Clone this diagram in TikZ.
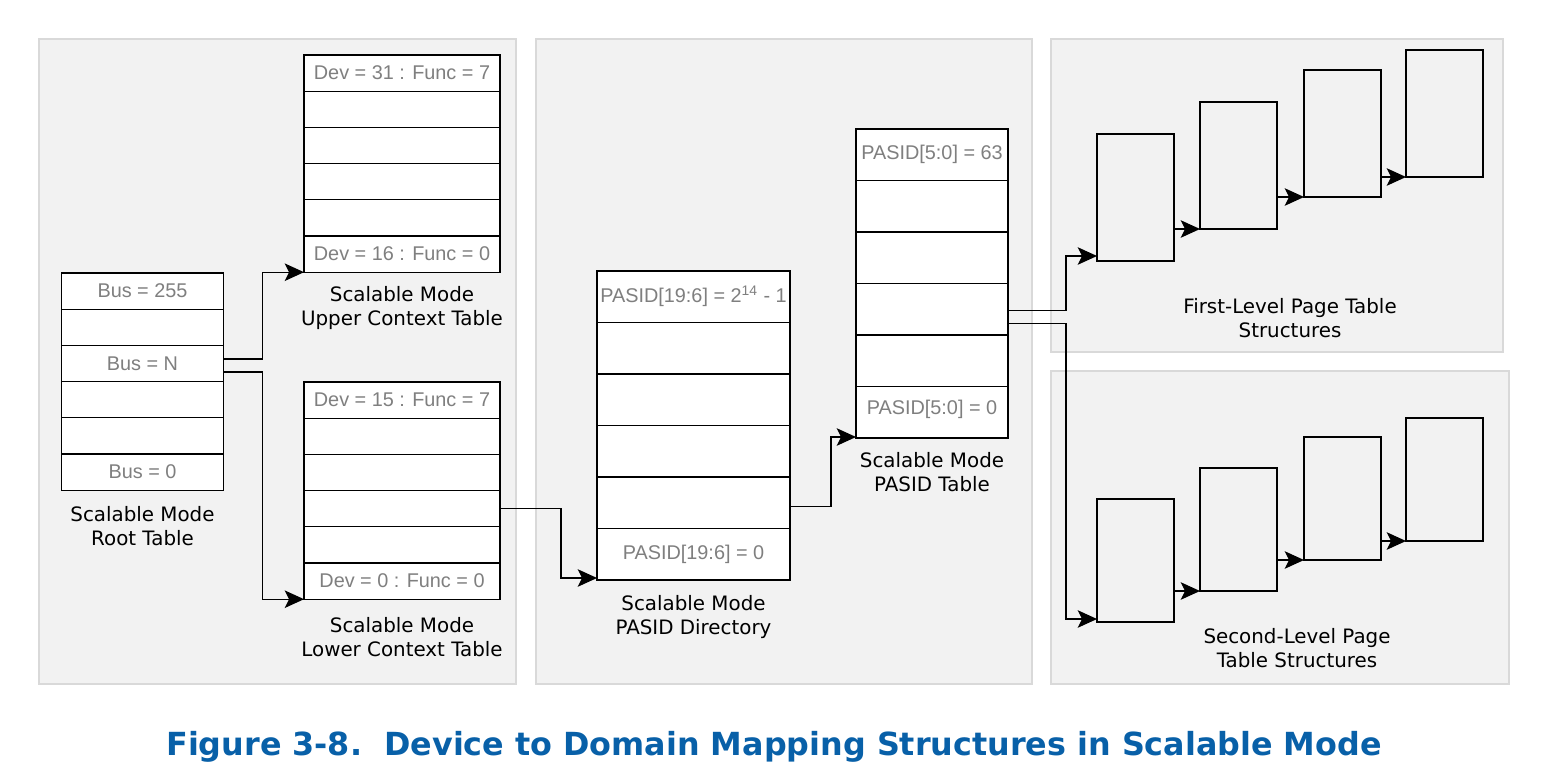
\documentclass[tikz,border=0pt]{standalone}
\usepackage{fontspec}
\setmainfont{DejaVu Sans}
\newfontfamily\cellfont{Liberation Sans}
\usetikzlibrary{arrows.meta, calc, positioning}
\definecolor{panelgray}{HTML}{F2F2F2}
\definecolor{panelline}{HTML}{D9D9D9}
\definecolor{cellgray}{HTML}{7F7F7F}
\definecolor{titleblue}{HTML}{0860A8}

\begin{document}
\begin{tikzpicture}[x=0.02cm, y=-0.02cm, >={Stealth[length=11pt, width=10pt, inset=2.5pt]}, line width=0.7pt]
	\tikzstyle{panel}=[fill=panelgray, draw=panelline, line width=1.1pt]
	\tikzstyle{cell}=[draw, fill=white, inner sep=0pt, outer sep=0pt, text=cellgray, font=\cellfont\fontsize{11.3}{13.6}\selectfont]
	\tikzstyle{rootcell}=[cell, minimum width=3.232cm, minimum height=0.724cm]
	\tikzstyle{ctxcell}=[cell, minimum width=3.92cm, minimum height=0.724cm]
	\tikzstyle{dircell}=[cell, minimum width=3.86cm, minimum height=1.03cm]
	\tikzstyle{ptabcell}=[cell, minimum width=3.04cm, minimum height=1.03cm]
	\tikzstyle{pagebox}=[draw, inner sep=0pt, outer sep=0pt, anchor=south west, minimum width=1.54cm]
	\tikzstyle{caption}=[align=center, inner sep=0pt, font=\fontsize{11.3}{13.6}\selectfont]
	\tikzstyle{link}=[->]
	\useasboundingbox (0,0) rectangle (1552,782);

	% background panels
	\draw[panel] (39,39) rectangle (516,684);
	\draw[panel] (536,39) rectangle (1032,684);
	\draw[panel] (1051,39) rectangle (1503,352);
	\draw[panel] (1051,371) rectangle (1509,684);

	% tables
	\foreach \t [count=\i] in {{Bus = 255},{},{Bus = N},{},{},{Bus = 0}}
		\node[rootcell] (ROOT\i) at (142.5, {273+36.2*(\i-0.5)}) {\t};
	\foreach \t [count=\i] in {{Dev = 31 : Func = 7},{},{},{},{},{Dev = 16 : Func = 0}}
		\node[ctxcell] (UPPER\i) at (402, {55+36.2*(\i-0.5)}) {\t};
	\foreach \t [count=\i] in {{Dev = 15 : Func = 7},{},{},{},{},{Dev = 0 : Func = 0}}
		\node[ctxcell] (LOWER\i) at (402, {382+36.2*(\i-0.5)}) {\t};
	\foreach \t [count=\i] in {{PASID[19:6] = 2\textsuperscript{14} - 1},{},{},{},{},{PASID[19:6] = 0}}
		\node[dircell] (DIR\i) at (693.5, {271+51.5*(\i-0.5)}) {\t};
	\foreach \t [count=\i] in {{PASID[5:0] = 63},{},{},{},{},{\raisebox{6pt}{PASID[5:0] = 0}}}
		\node[ptabcell] (PTAB\i) at (932, {129+51.5*(\i-0.5)}) {\t};

	% page table structures
	\node[pagebox, minimum height=2.54cm] (FL1) at (1097,261) {};
	\node[pagebox, minimum height=2.54cm] (FL2) at (1200,229) {};
	\node[pagebox, minimum height=2.54cm] (FL3) at (1304,197) {};
	\node[pagebox, minimum height=2.54cm] (FL4) at (1406,177) {};
	\node[pagebox, minimum height=2.46cm] (SL1) at (1097,622) {};
	\node[pagebox, minimum height=2.46cm] (SL2) at (1200,591) {};
	\node[pagebox, minimum height=2.46cm] (SL3) at (1304,560) {};
	\node[pagebox, minimum height=2.46cm] (SL4) at (1406,541) {};

	% captions
	\node[caption] (ROOTCAP) at ($(ROOT6.south)+(0,35.5)$) {Scalable Mode\\Root Table};
	\node[caption] (UPPERCAP) at ($(UPPER6.south)+(0,35.6)$) {Scalable Mode\\Upper Context Table};
	\node[caption] (LOWERCAP) at ($(LOWER6.south)+(0,37.6)$) {Scalable Mode\\Lower Context Table};
	\node[caption] (DIRCAP) at ($(DIR6.south)+(0,36.8)$) {Scalable Mode\\PASID Directory};
	\node[caption] (PTABCAP) at ($(PTAB6.south)+(0,34.5)$) {Scalable Mode\\PASID Table};
	\node[caption] (FLCAP) at (1290,318.5) {First-Level Page Table\\Structures};
	\node[caption] (SLCAP) at (1297,648) {Second-Level Page\\Table Structures};
	\node[font=\fontsize{18.1}{20}\selectfont\bfseries, text=titleblue] (TITLE) at (774,747) {Figure 3-8.~~Device to Domain Mapping Structures in Scalable Mode};

	% connectors
	\draw[link] ($(ROOT3.east)+(0,-4.5)$) -- ++(39,0) |- (UPPER6.south west);
	\draw[link] ($(ROOT3.east)+(0,8.5)$) -- ++(39,0) |- (LOWER6.south west);
	\draw[link] (LOWER4.east) -- ++(61,0) |- ($(DIR6.south west)+(0,-2)$);
	\draw[link] ($(DIR5.east)+(0,4)$) -- ++(41,0) |- ($(PTAB6.south west)+(0,-1)$);
	\draw[link] ($(PTAB4.east)+(0,1)$) -- ++(58,0) |- ($(FL1.south west)+(0,-5)$);
	\draw[link] ($(PTAB4.east)+(0,14)$) -- ++(58,0) |- ($(SL1.south west)+(0,-3)$);
	\draw[link] (FL2.south west -| FL1.east) -- (FL2.south west);
	\draw[link] (FL3.south west -| FL2.east) -- (FL3.south west);
	\draw[link] (FL4.south west -| FL3.east) -- (FL4.south west);
	\draw[link] (SL2.south west -| SL1.east) -- (SL2.south west);
	\draw[link] (SL3.south west -| SL2.east) -- (SL3.south west);
	\draw[link] (SL4.south west -| SL3.east) -- (SL4.south west);
\end{tikzpicture}
\end{document}
